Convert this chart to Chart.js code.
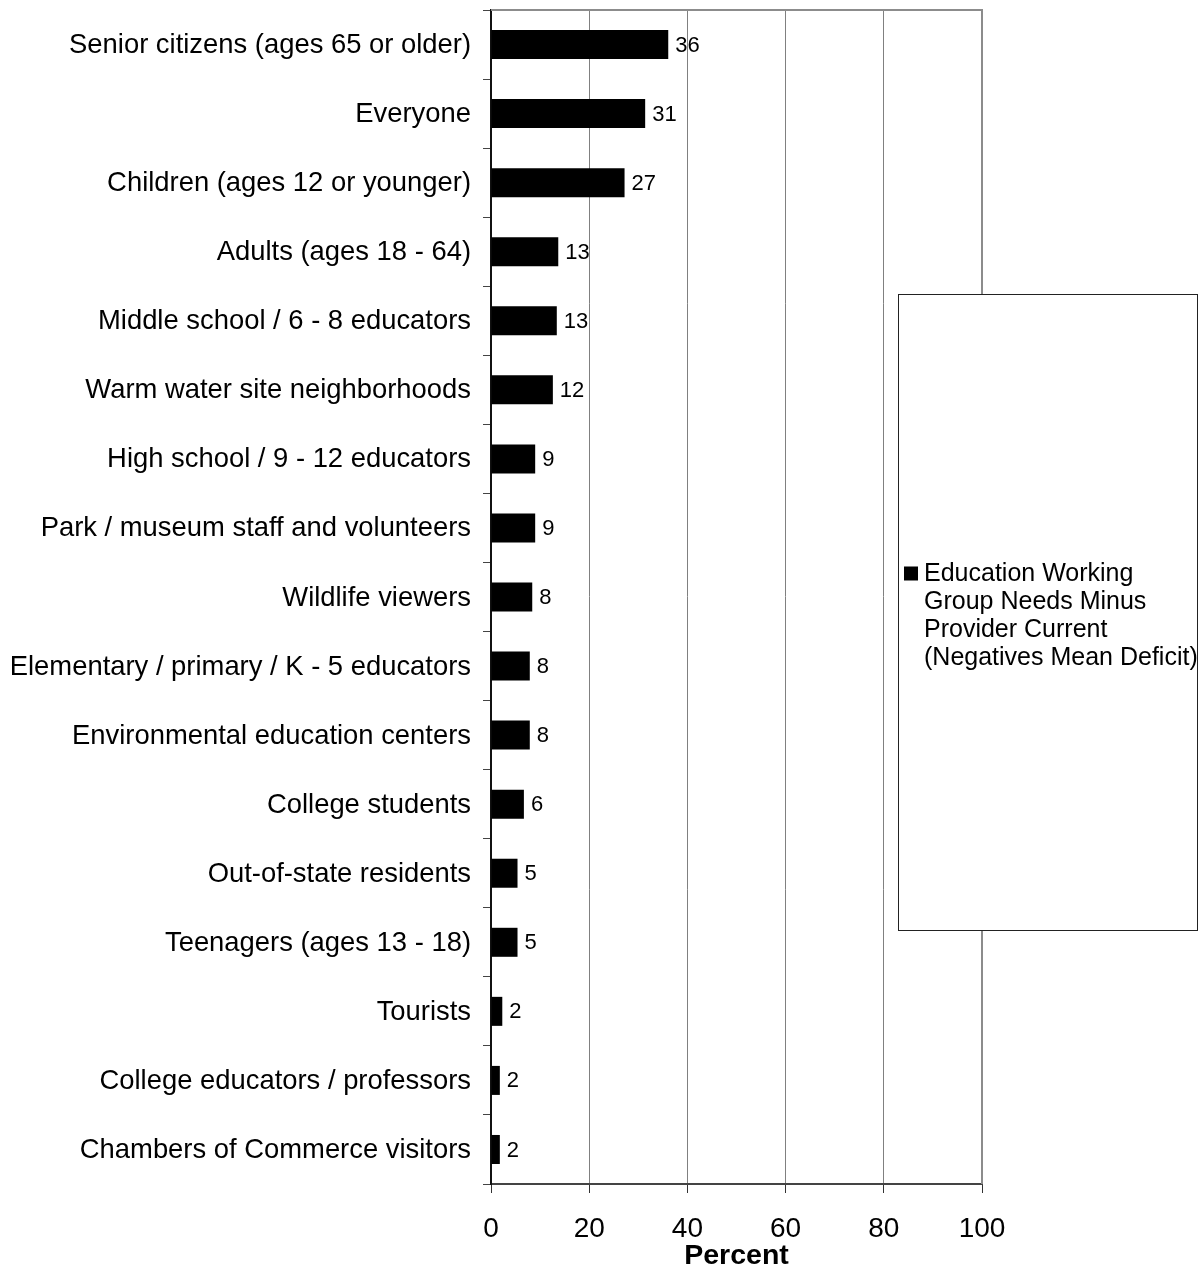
<!DOCTYPE html>
<html>
<head>
<meta charset="utf-8">
<script src="https://cdn.jsdelivr.net/npm/chart.js@4/dist/chart.umd.min.js"></script>
<style>
  html, body { margin: 0; padding: 0; background: #ffffff; }
  #wrap { width: 1203px; height: 1274px; }
</style>
</head>
<body>
<div id="wrap"><canvas id="c" width="1203" height="1274"></canvas></div>
<script>
const categories = [
  'Senior citizens (ages 65 or older)',
  'Everyone',
  'Children (ages 12 or younger)',
  'Adults (ages 18 - 64)',
  'Middle school / 6 - 8 educators',
  'Warm water site neighborhoods',
  'High school / 9 - 12 educators',
  'Park / museum staff and volunteers',
  'Wildlife viewers',
  'Elementary / primary / K - 5 educators',
  'Environmental education centers',
  'College students',
  'Out-of-state residents',
  'Teenagers (ages 13 - 18)',
  'Tourists',
  'College educators / professors',
  'Chambers of Commerce visitors'
];
const values = [36.1, 31.4, 27.2, 13.7, 13.4, 12.6, 9.0, 9.0, 8.4, 7.9, 7.9, 6.7, 5.4, 5.4, 2.3, 1.8, 1.8];
const valueLabels = ['36', '31', '27', '13', '13', '12', '9', '9', '8', '8', '8', '6', '5', '5', '2', '2', '2'];
const xTickValues = [0, 20, 40, 60, 80, 100];
const axisTitle = 'Percent';
const seriesName = 'Education Working Group Needs Minus Provider Current (Negatives Mean Deficit)';
const legendLines = ['Education Working', 'Group Needs Minus', 'Provider Current', '(Negatives Mean Deficit)'];

const FONT = '"Liberation Sans", Arial, sans-serif';

const topBorder = {
  id: 'topBorder',
  beforeDatasetsDraw(chart) {
    const { ctx, chartArea } = chart;
    ctx.save();
    ctx.strokeStyle = '#8c8c8c';
    ctx.lineWidth = 2;
    ctx.beginPath();
    ctx.moveTo(chartArea.left, chartArea.top);
    ctx.lineTo(chartArea.right + 1, chartArea.top);
    ctx.stroke();
    ctx.beginPath();
    ctx.moveTo(chartArea.right, chartArea.top);
    ctx.lineTo(chartArea.right, chartArea.bottom);
    ctx.stroke();
    ctx.restore();
  }
};

const valueLabelPlugin = {
  id: 'valueLabels',
  afterDatasetsDraw(chart) {
    const { ctx } = chart;
    const meta = chart.getDatasetMeta(0);
    ctx.save();
    ctx.fillStyle = '#000';
    ctx.font = '22px ' + FONT;
    ctx.textAlign = 'left';
    ctx.textBaseline = 'middle';
    meta.data.forEach((el, i) => {
      ctx.fillText(valueLabels[i], el.x + 7, el.y + 1);
    });
    ctx.restore();
  }
};

const customLegend = {
  id: 'customLegend',
  afterDraw(chart) {
    const { ctx } = chart;
    const bx = 898.5, by = 294.5, bw = 299, bh = 636;
    ctx.save();
    ctx.fillStyle = '#fff';
    ctx.fillRect(bx, by, bw, bh);
    ctx.strokeStyle = '#222';
    ctx.lineWidth = 1;
    ctx.strokeRect(bx, by, bw, bh);
    const lh = 28;
    const cy = by + bh / 2 + 3;
    const y0 = cy - (legendLines.length - 1) * lh / 2;
    ctx.fillStyle = chart.data.datasets[0].backgroundColor;
    ctx.fillRect(904, y0 - 7, 14, 14);
    ctx.fillStyle = '#000';
    ctx.font = '25px ' + FONT;
    ctx.textAlign = 'left';
    ctx.textBaseline = 'middle';
    legendLines.forEach((t, i) => ctx.fillText(t, 924, y0 + i * lh + 1));
    ctx.restore();
  }
};

new Chart(document.getElementById('c'), {
  type: 'bar',
  data: {
    labels: categories,
    datasets: [{
      label: seriesName,
      data: values,
      backgroundColor: '#000000',
      borderWidth: 0,
      categoryPercentage: 1,
      barPercentage: 0.42
    }]
  },
  options: {
    indexAxis: 'y',
    responsive: false,
    animation: false,
    layout: { padding: { top: 10, right: 221, left: 0, bottom: 0 } },
    plugins: {
      legend: { display: false },
      tooltip: { enabled: false }
    },
    scales: {
      x: {
        min: 0,
        max: 100,
        afterBuildTicks(scale) { scale.ticks = xTickValues.map(v => ({ value: v })); },
        afterFit(scale) { scale.height = 90; scale.paddingLeft = 0; scale.paddingRight = 0; },
        ticks: {
          color: '#000',
          font: { family: FONT, size: 28 },
          padding: 19,
          maxRotation: 0
        },
        grid: {
          color: '#808080',
          lineWidth: 1,
          tickColor: '#333',
          tickLength: 9
        },
        border: { color: '#444', width: 2 },
        title: {
          display: true,
          text: axisTitle,
          color: '#000',
          font: { family: FONT, size: 28.5, weight: 'bold' },
          padding: { top: 0, bottom: 1 }
        }
      },
      y: {
        type: 'category',
        offset: true,
        afterFit(scale) { scale.width = 491; scale.paddingTop = 0; scale.paddingBottom = 0; },
        ticks: {
          color: '#000',
          font: { family: FONT, size: 27.4 },
          padding: 12,
          labelOffset: 1,
          autoSkip: false
        },
        grid: {
          offset: true,
          drawOnChartArea: false,
          tickColor: '#444',
          tickLength: 8
        },
        border: { color: '#111', width: 2 }
      }
    }
  },
  plugins: [topBorder, valueLabelPlugin, customLegend]
});
</script>
</body>
</html>
